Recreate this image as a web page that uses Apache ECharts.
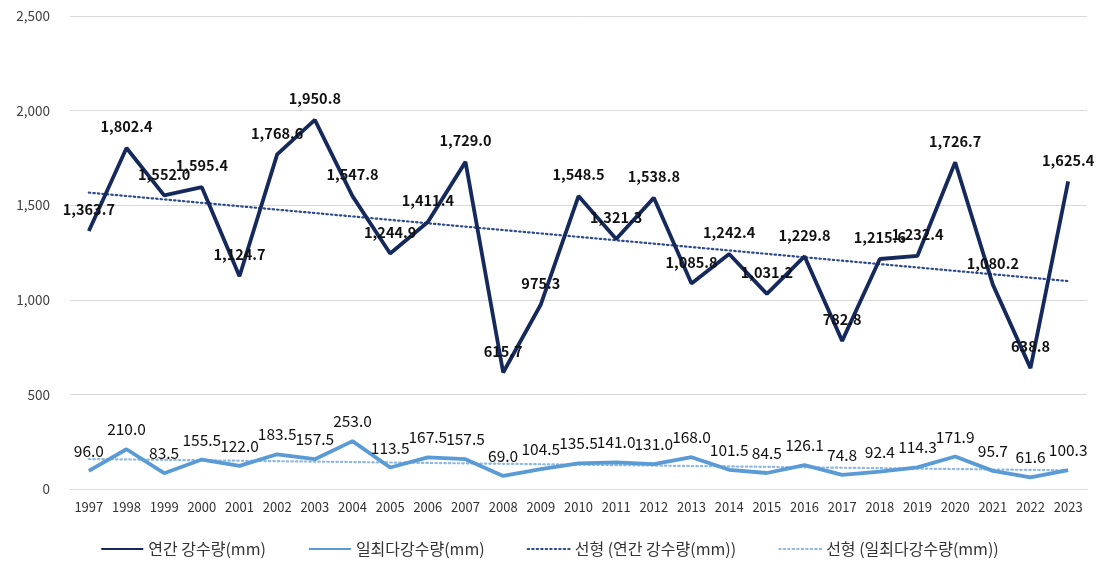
<!DOCTYPE html>
<html>
<head>
<meta charset="utf-8">
<script src="https://cdn.jsdelivr.net/npm/echarts@6/dist/echarts.min.js"></script>
<style>
html,body{margin:0;padding:0;background:#fff;}
#chart{width:1099px;height:567px;}
</style>
</head>
<body>
<div id="chart"></div>
<script>
const years = ['1997','1998','1999','2000','2001','2002','2003','2004','2005','2006','2007','2008','2009','2010','2011','2012','2013','2014','2015','2016','2017','2018','2019','2020','2021','2022','2023'];
const annual = [1363.7,1802.4,1552.0,1595.4,1124.7,1768.6,1950.8,1547.8,1244.9,1411.4,1729.0,615.7,975.3,1548.5,1321.3,1538.8,1085.8,1242.4,1031.2,1229.8,782.8,1215.6,1232.4,1726.7,1080.2,638.8,1625.4];
const daily = [96.0,210.0,83.5,155.5,122.0,183.5,157.5,253.0,113.5,167.5,157.5,69.0,104.5,135.5,141.0,131.0,168.0,101.5,84.5,126.1,74.8,92.4,114.3,171.9,95.7,61.6,100.3];
const yTicks = [0,500,1000,1500,2000,2500];
const seriesNames = ['연간 강수량(mm)','일최다강수량(mm)','선형 (연간 강수량(mm))','선형 (일최다강수량(mm))'];

function linearTrend(arr){
  const n = arr.length;
  let sx=0, sy=0, sxy=0, sxx=0;
  arr.forEach((v,i)=>{ const x=i+1; sx+=x; sy+=v; sxy+=x*v; sxx+=x*x; });
  const b = (n*sxy - sx*sy)/(n*sxx - sx*sx);
  const a = (sy - b*sx)/n;
  return arr.map((v,i)=>+(a+b*(i+1)).toFixed(2));
}
const fmt1 = new Intl.NumberFormat('en-US',{minimumFractionDigits:1,maximumFractionDigits:1});
const fmt0 = new Intl.NumberFormat('en-US');
const FONT = '"Noto Sans CJK KR","Noto Sans",sans-serif';

const chart = echarts.init(document.getElementById('chart'));
chart.setOption({
  animation:false,
  textStyle:{fontFamily:FONT},
  grid:{left:70,right:12,top:16,bottom:78},
  legend:{
    bottom:5,left:'center',
    itemWidth:42,itemHeight:10,itemGap:42,
    itemStyle:{opacity:0},
    textStyle:{fontSize:16,color:'#333333',fontFamily:FONT},
    data:seriesNames
  },
  xAxis:{
    type:'category',data:years,boundaryGap:true,
    axisLine:{show:true,lineStyle:{color:'#D9D9D9',width:1}},
    axisTick:{show:false},
    axisLabel:{color:'#333333',fontSize:13,margin:12,interval:0,fontFamily:FONT}
  },
  yAxis:{
    type:'value',min:yTicks[0],max:yTicks[yTicks.length-1],interval:500,
    axisLine:{show:false},axisTick:{show:false},
    splitLine:{lineStyle:{color:'#D9D9D9',width:1}},
    axisLabel:{color:'#404040',fontSize:13.5,margin:20,formatter:v=>fmt0.format(v),fontFamily:FONT}
  },
  series:[
    {
      name:seriesNames[2],type:'line',data:linearTrend(annual),
      symbol:'none',silent:true,z:2,
      lineStyle:{color:'#2F4B8F',width:2.2,type:[1.5,3],cap:'round'},
      itemStyle:{color:'#2F4B8F'}
    },
    {
      name:seriesNames[3],type:'line',data:linearTrend(daily),
      symbol:'none',silent:true,z:2,
      lineStyle:{color:'#8FB8E3',width:2.2,type:[1.5,3],cap:'round'},
      itemStyle:{color:'#8FB8E3'}
    },
    {
      name:seriesNames[0],type:'line',data:annual,
      symbol:'circle',symbolSize:0.1,showSymbol:true,z:3,
      lineStyle:{color:'#15295C',width:3.8},
      itemStyle:{color:'#15295C'},
      label:{show:true,position:'top',distance:14,color:'#111111',fontSize:14.5,fontWeight:'bold',
        formatter:p=>fmt1.format(p.value),fontFamily:FONT}
    },
    {
      name:seriesNames[1],type:'line',data:daily,
      symbol:'circle',symbolSize:0.1,showSymbol:true,z:3,
      lineStyle:{color:'#5B9BD5',width:3.8},
      itemStyle:{color:'#5B9BD5'},
      label:{show:true,position:'top',distance:12,color:'#111111',fontSize:15.5,
        formatter:p=>fmt1.format(p.value),fontFamily:FONT}
    }
  ]
});
</script>
</body>
</html>
